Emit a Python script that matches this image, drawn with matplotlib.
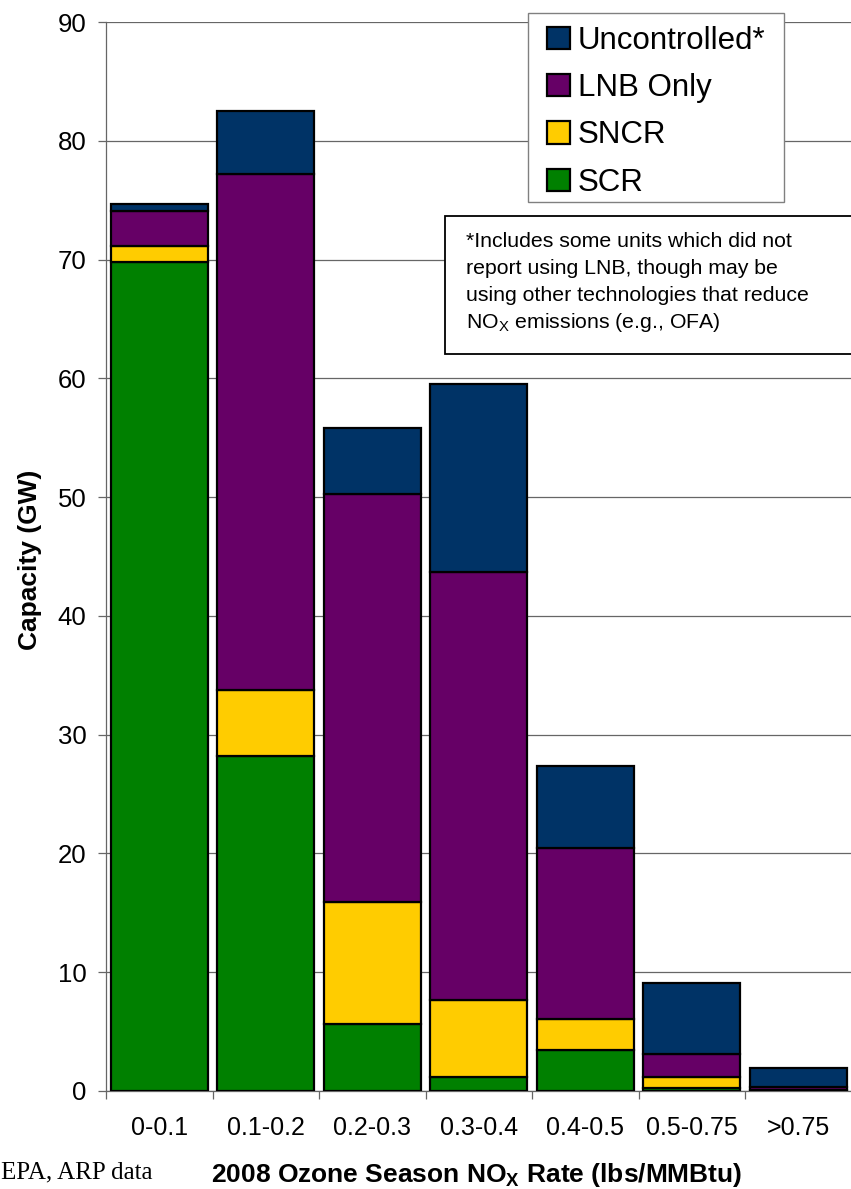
import matplotlib
matplotlib.use("Agg")
import matplotlib.pyplot as plt
from matplotlib.patches import Rectangle
import numpy as np

plt.rcParams['font.family'] = ['Liberation Sans', 'DejaVu Sans']
plt.rcParams['mathtext.fontset'] = 'custom'
plt.rcParams['mathtext.rm'] = 'Liberation Sans'

categories = ['0-0.1', '0.1-0.2', '0.2-0.3', '0.3-0.4', '0.4-0.5', '0.5-0.75', '>0.75']
scr = [69.8, 28.2, 5.6, 1.2, 3.45, 0.25, 0.05]
sncr = [1.3, 5.6, 10.3, 6.5, 2.6, 0.9, 0.0]
lnb = [3.0, 43.4, 34.4, 36.0, 14.4, 1.95, 0.3]
unc = [0.6, 5.3, 5.5, 15.8, 6.95, 6.0, 1.57]

series_names = ['SCR', 'SNCR', 'LNB Only', 'Uncontrolled*']
series_colors = ['#008000', '#FFCC00', '#660066', '#003366']

W, H = 851, 1189
fig = plt.figure(figsize=(W / 100, H / 100), dpi=100)

def fx(px):
    return px / W

def fy(py):
    return 1 - py / H

ax_left, ax_right, ax_top, ax_bot = 106, 851.5, 22, 1091
ax = fig.add_axes([fx(ax_left), fy(ax_bot), (ax_right - ax_left) / W, (ax_bot - ax_top) / H])

x = np.arange(len(categories))
bottom = np.zeros(len(categories))
handles = []
for vals, name, col in zip([scr, sncr, lnb, unc], series_names, series_colors):
    b = ax.bar(x, vals, width=0.91, bottom=bottom, color=col, edgecolor='black',
               linewidth=1.6, label=name, zorder=3)
    handles.append(b)
    bottom = bottom + np.array(vals)

ax.set_xlim(-0.5, 6.5)
ax.set_ylim(0, 90)
ax.set_yticks(np.arange(0, 91, 10))
ax.yaxis.grid(True, color='#666666', linewidth=0.9)
ax.set_axisbelow(True)

for s in ['top', 'right']:
    ax.spines[s].set_visible(False)
for s in ['left', 'bottom']:
    ax.spines[s].set_color('#666666')
    ax.spines[s].set_linewidth(0.9)

ax.set_xticks(np.arange(-0.5, 7, 1))
ax.set_xticklabels([])
ax.set_xticks(x, minor=True)
ax.set_xticklabels(categories, minor=True)
ax.tick_params(axis='x', which='major', direction='out', length=6, color='#666666', width=0.9)
ax.tick_params(axis='x', which='minor', length=0, labelsize=18, pad=18)
ax.tick_params(axis='y', direction='out', length=6, color='#666666', width=0.9,
               labelsize=18.5, pad=8)

# axis labels
fig.text(fx(30), fy(560), 'Capacity (GW)', rotation=90, ha='center', va='center',
         fontsize=19, fontweight='bold')
fig.text(fx(477), fy(1182), r'2008 Ozone Season NO$_\mathregular{X}$ Rate (lbs/MMBtu)',
         ha='center', va='baseline', fontsize=19, fontweight='bold')
fig.text(fx(1), fy(1178), 'EPA, ARP data', ha='left', va='baseline', fontsize=18,
         family=['Liberation Serif', 'DejaVu Serif'])

# legend with frame drawn separately
fig.add_artist(Rectangle((fx(528), fy(202)), fx(784) - fx(528), fy(13) - fy(202),
                         transform=fig.transFigure, facecolor='white',
                         edgecolor='#808080', linewidth=1.0, zorder=4))
leg = fig.legend(handles=handles[::-1], labels=series_names[::-1], loc='upper left',
                 bbox_to_anchor=(fx(547), fy(26)), frameon=False, fontsize=22.5,
                 handlelength=0.72, handleheight=0.72, handletextpad=0.26,
                 labelspacing=0.55, borderpad=0, borderaxespad=0)
leg.set_zorder(5)

# note box
fig.add_artist(Rectangle((fx(445), fy(354)), fx(870) - fx(445), fy(216) - fy(354),
                         transform=fig.transFigure, facecolor='white',
                         edgecolor='black', linewidth=1.3, zorder=4))
note_lines = ['*Includes some units which did not',
              'report using LNB, though may be',
              'using other technologies that reduce',
              r'NO$_\mathregular{X}$ emissions (e.g., OFA)']
for i, line in enumerate(note_lines):
    fig.text(fx(466), fy(247 + 27 * i), line, ha='left', va='baseline', fontsize=15.3,
             zorder=6)

fig.savefig('out.png', dpi=100)
